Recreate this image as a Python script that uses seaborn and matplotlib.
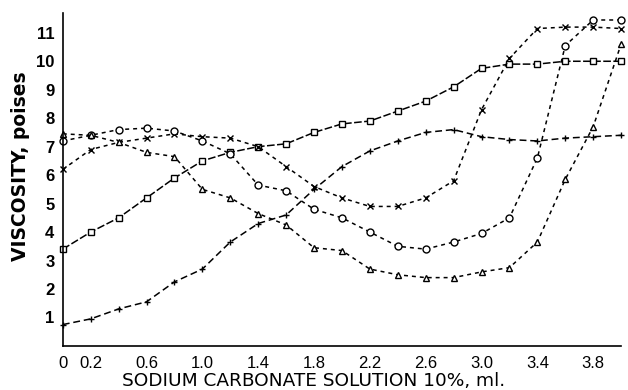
import numpy as np
import pandas as pd
import matplotlib
matplotlib.use("Agg")
import matplotlib.pyplot as plt
import seaborn as sns

# Sodium carbonate solution added (ml) and measured viscosity (poises)
volume_ml = [0.0, 0.2, 0.4, 0.6, 0.8, 1.0, 1.2, 1.4, 1.6, 1.8, 2.0,
             2.2, 2.4, 2.6, 2.8, 3.0, 3.2, 3.4, 3.6, 3.8, 4.0]

visc_square = [3.4, 4.0, 4.5, 5.2, 5.9, 6.5, 6.8, 7.0, 7.1, 7.5, 7.8,
               7.9, 8.25, 8.6, 9.1, 9.75, 9.9, 9.9, 10.0, 10.0, 10.0]
visc_plus = [0.75, 0.95, 1.3, 1.55, 2.25, 2.7, 3.65, 4.3, 4.6, 5.5, 6.3,
             6.85, 7.2, 7.5, 7.6, 7.35, 7.25, 7.2, 7.3, 7.35, 7.4]
visc_cross = [6.2, 6.9, 7.15, 7.3, 7.45, 7.35, 7.3, 7.0, 6.3, 5.6, 5.2,
              4.9, 4.9, 5.2, 5.8, 8.3, 10.1, 11.15, 11.2, 11.2, 11.15]
visc_circle = [7.2, 7.4, 7.6, 7.65, 7.55, 7.2, 6.75, 5.65, 5.45, 4.8, 4.5,
               4.0, 3.5, 3.4, 3.65, 3.95, 4.5, 6.6, 10.55, 11.45, 11.45]
visc_triangle = [7.45, 7.4, 7.15, 6.8, 6.65, 5.5, 5.2, 4.65, 4.25, 3.45, 3.35,
                 2.7, 2.5, 2.4, 2.4, 2.6, 2.75, 3.65, 5.85, 7.7, 10.6]

x_ticks = [0.0, 0.2, 0.4, 0.6, 0.8, 1.0, 1.2, 1.4, 1.6, 1.8,
           2.0, 2.2, 2.4, 2.6, 2.8, 3.0, 3.2, 3.4, 3.6, 3.8]
x_tick_labels = ["0", "0.2", "", "0.6", "", "1.0", "", "1.4", "", "1.8",
                 "", "2.2", "", "2.6", "", "3.0", "", "3.4", "", "3.8"]
y_ticks = [1, 2, 3, 4, 5, 6, 7, 8, 9, 10, 11]

sns.set_theme(style="white")
plt.rcParams["font.family"] = ["Liberation Sans", "DejaVu Sans"]

fig = plt.figure(figsize=(6.28, 3.90), dpi=100)
ax = fig.add_axes([0.100, 0.113, 0.889, 0.854])

series = [
    (visc_square, "s", (0, (5, 1.6))),
    (visc_plus, "+", (0, (4.5, 2.5))),
    (visc_cross, "x", (0, (2.6, 2.6))),
    (visc_circle, "o", (0, (2.6, 2.6))),
    (visc_triangle, "^", (0, (2.6, 2.6))),
]
marker_size = {"s": 4, "o": 5, "^": 4, "x": 4, "+": 5}

for values, mk, ls in series:
    df = pd.DataFrame({"ml": volume_ml, "visc": values})
    open_face = mk in ("s", "o", "^")
    sns.lineplot(data=df, x="ml", y="visc", ax=ax, color="black",
                 linewidth=1.1, linestyle=ls, marker=mk,
                 markersize=marker_size[mk],
                 markerfacecolor="white" if open_face else "black",
                 markeredgecolor="black", markeredgewidth=1.0,
                 sort=False, clip_on=False, legend=False)

ax.set_xlim(0, 4.0)
ax.set_ylim(0, 11.7)
ax.set_xticks(x_ticks)
ax.set_xticklabels(x_tick_labels)
ax.set_yticks(y_ticks)
ax.set_yticklabels([str(v) for v in y_ticks])

for side in ("top", "right"):
    ax.spines[side].set_visible(False)
for side in ("left", "bottom"):
    ax.spines[side].set_color("black")
    ax.spines[side].set_linewidth(1.2)

ax.tick_params(axis="both", direction="in", length=5, width=1.1,
               colors="black", labelsize=12, pad=6)
ax.tick_params(axis="x", pad=7)
for lab in ax.get_yticklabels():
    lab.set_fontweight("bold")

ax.set_xlabel("SODIUM CARBONATE SOLUTION 10%, ml.", fontsize=13.3,
              color="black", family=["DejaVu Sans"], va="baseline")
ax.set_ylabel("VISCOSITY, poises", fontsize=13.5, fontweight="bold",
              color="black", family=["DejaVu Sans"])
ax.xaxis.set_label_coords(0.45, -0.12)
ax.yaxis.set_label_coords(-0.058, 0.54)

fig.savefig("out.png", dpi=100)
